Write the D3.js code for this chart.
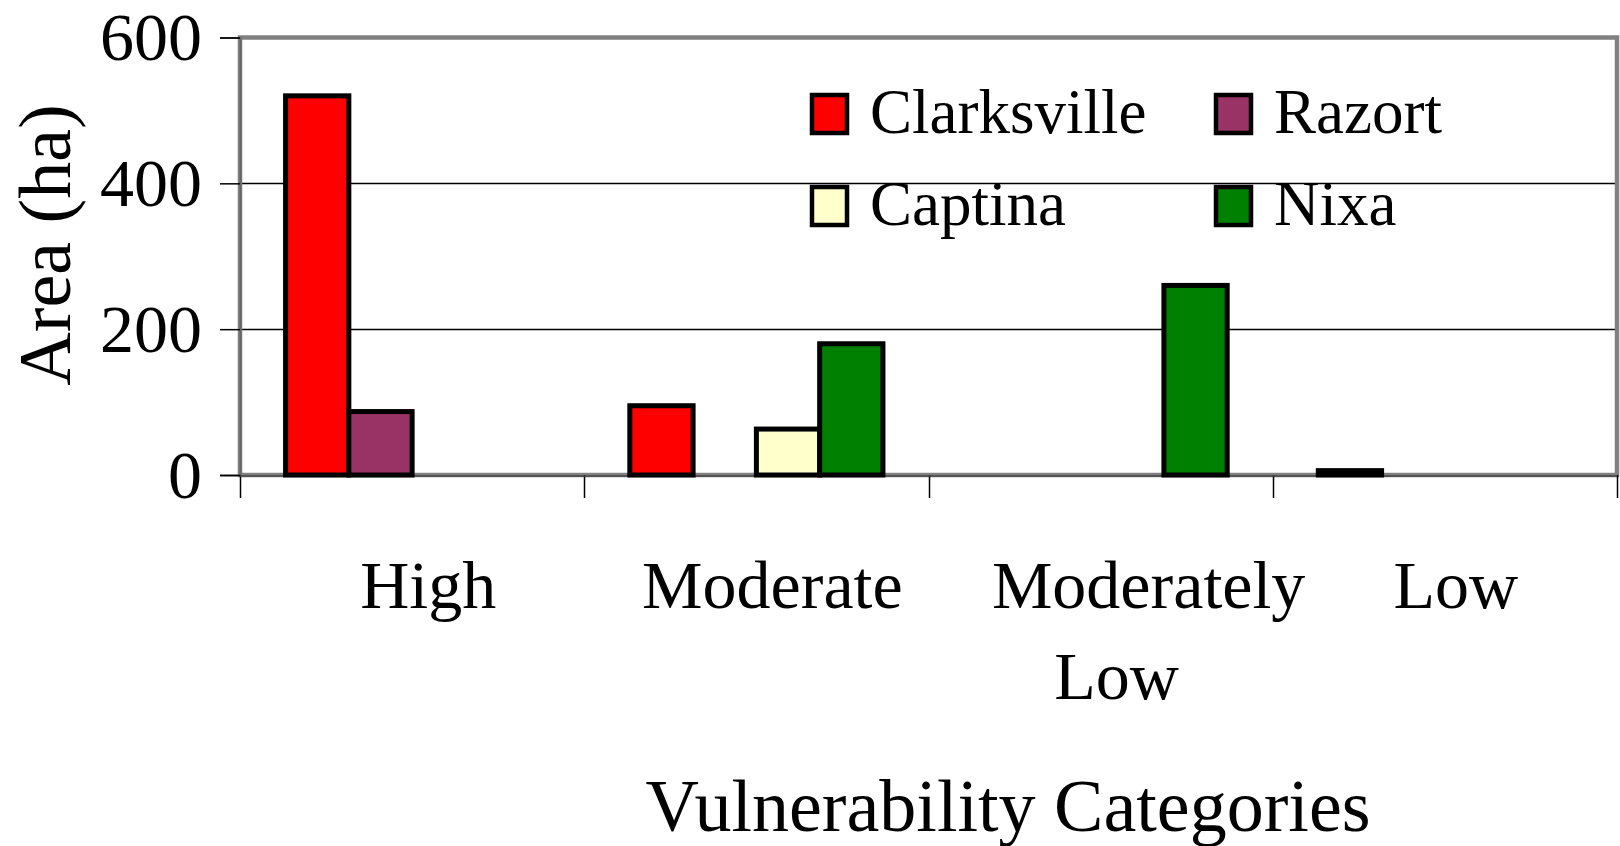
<!DOCTYPE html>
<html>
<head>
<meta charset="utf-8">
<script src="https://cdn.jsdelivr.net/npm/d3@7/dist/d3.min.js"></script>
<style>
  html, body { margin: 0; padding: 0; background: #fff; }
  svg { display: block; font-family: "Liberation Serif", "Times New Roman", serif; }
</style>
</head>
<body>
<svg id="chart" width="1620" height="846"></svg>
<script>
// Area (ha) per vulnerability category, one array per soil series
const categories = ["High", "Moderate", "Moderately Low", "Low"];
const categoryLabels = [["High"], ["Moderate"], ["Moderately", "Low"], ["Low"]];
const seriesNames = ["Clarksville", "Razort", "Captina", "Nixa"];
const clarksville = [520, 95, 0, 6];
const razort = [87, 0, 0, 0];
const captina = [0, 63, 0, 0];
const nixa = [0, 180, 260, 0];
const seriesColors = ["#ff0000", "#993366", "#ffffcc", "#008000"];
const yTicks = [0, 200, 400, 600];

const seriesValues = [clarksville, razort, captina, nixa];

const svg = d3.select("#chart");
const plot = { left: 240, right: 1617, top: 37.5, bottom: 475 };

const x0 = d3.scaleBand()
  .domain(categories)
  .range([plot.left, plot.right])
  .paddingInner(0).paddingOuter(0);

const x1 = d3.scaleBand()
  .domain(seriesNames)
  .range([0, x0.bandwidth()])
  .paddingInner(0).paddingOuter(0.72);

const y = d3.scaleLinear().domain([0, 600]).range([plot.bottom, plot.top]);
const crisp = v => Math.round(v) + 0.5;

// gridlines
svg.append("g")
  .selectAll("line")
  .data(yTicks.filter(t => t > 0 && t < 600))
  .join("line")
  .attr("x1", plot.left).attr("x2", plot.right)
  .attr("y1", d => crisp(y(d))).attr("y2", d => crisp(y(d)))
  .attr("stroke", "#000").attr("stroke-width", 1.5);

// plot-area frame
svg.append("rect")
  .attr("x", plot.left).attr("y", plot.top)
  .attr("width", plot.right - plot.left).attr("height", plot.bottom - plot.top)
  .attr("fill", "none").attr("stroke", "#808080").attr("stroke-width", 4.5);

// y axis
const yAxis = d3.axisLeft(y).tickValues(yTicks).tickSize(20).tickPadding(18);
const gy = svg.append("g").attr("transform", `translate(${plot.left},0)`).call(yAxis);
gy.select(".domain").attr("stroke", "#666").attr("stroke-width", 2);
gy.selectAll(".tick line").attr("stroke", "#000").attr("stroke-width", 1.5);
gy.selectAll(".tick text")
  .attr("font-family", "Liberation Serif, Times New Roman, serif")
  .attr("font-size", 68).attr("fill", "#000").attr("dy", "0.33em");

// category boundary ticks on the x axis
const bounds = categories.map(c => x0(c)).concat([plot.right]);
svg.append("g")
  .selectAll("line")
  .data(bounds)
  .join("line")
  .attr("x1", d => crisp(d)).attr("x2", d => crisp(d))
  .attr("y1", plot.bottom).attr("y2", plot.bottom + 23)
  .attr("stroke", "#000").attr("stroke-width", 1.5);
svg.append("line")
  .attr("x1", plot.left).attr("x2", plot.right)
  .attr("y1", plot.bottom + 1).attr("y2", plot.bottom + 1)
  .attr("stroke", "#444").attr("stroke-width", 1.5);

// bars
const bars = [];
seriesNames.forEach((s, si) => {
  categories.forEach((c, ci) => {
    const v = seriesValues[si][ci];
    if (v > 0) bars.push({ series: s, cat: c, value: v, color: seriesColors[si] });
  });
});
svg.append("g")
  .selectAll("rect")
  .data(bars)
  .join("rect")
  .attr("x", d => x0(d.cat) + x1(d.series))
  .attr("width", x1.bandwidth())
  .attr("y", d => y(d.value))
  .attr("height", d => y(0) - y(d.value))
  .attr("fill", d => d.color)
  .attr("stroke", "#000").attr("stroke-width", 5);

// category labels
const labelShift = { "Moderately": 32 };
const catG = svg.append("g")
  .attr("font-size", 68).attr("text-anchor", "middle").attr("fill", "#000");
categories.forEach((c, ci) => {
  const cx = x0(c) + x0.bandwidth() / 2 + (ci === 3 ? 11 : 16);
  categoryLabels[ci].forEach((line, li) => {
    catG.append("text")
      .attr("x", cx + (labelShift[line] && li === 0 ? labelShift[line] : 0))
      .attr("y", 608 + li * 91)
      .text(line);
  });
});

// axis titles
svg.append("text")
  .attr("x", 1008).attr("y", 831)
  .attr("text-anchor", "middle").attr("font-size", 74)
  .text("Vulnerability Categories");
svg.append("text")
  .attr("transform", "translate(70,245) rotate(-90)")
  .attr("text-anchor", "middle").attr("font-size", 74)
  .text("Area (ha)");

// legend, two columns by two rows
const legendCols = [812, 1216];
const legendRows = [95, 187];
const legend = svg.append("g");
seriesNames.forEach((s, i) => {
  const lx = legendCols[i % 2];
  const ly = legendRows[Math.floor(i / 2)];
  legend.append("rect")
    .attr("x", lx).attr("y", ly).attr("width", 35).attr("height", 38)
    .attr("fill", seriesColors[i]).attr("stroke", "#000").attr("stroke-width", 4.5);
  legend.append("text")
    .attr("x", lx + 58).attr("y", ly + 38)
    .attr("font-size", 63).attr("fill", "#000")
    .text(s);
});
</script>
</body>
</html>
